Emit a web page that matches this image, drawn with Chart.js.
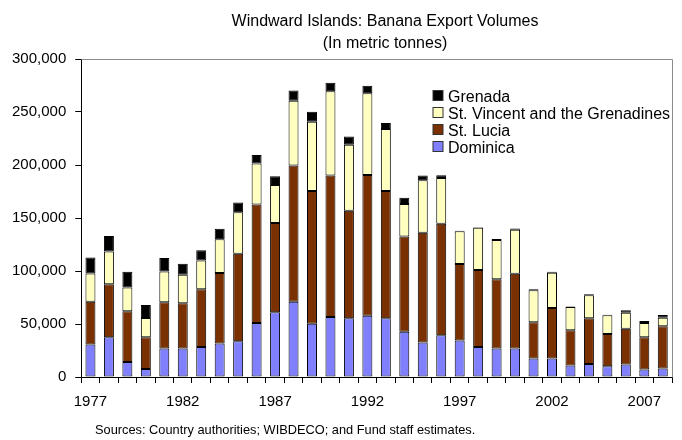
<!DOCTYPE html>
<html>
<head>
<meta charset="utf-8">
<script src="https://cdn.jsdelivr.net/npm/chart.js@4/dist/chart.umd.min.js"></script>
<style>
  html, body { margin: 0; padding: 0; background: #fff; }
  #wrap { width: 682px; height: 440px; }
</style>
</head>
<body>
<div id="wrap"><canvas id="chart" width="682" height="440"></canvas></div>
<script>
// Banana export volumes by island, metric tonnes
const years = ['1977','1978','1979','1980','1981','1982','1983','1984','1985','1986',
               '1987','1988','1989','1990','1991','1992','1993','1994','1995','1996',
               '1997','1998','1999','2000','2001','2002','2003','2004','2005','2006',
               '2007','2008'];
const dominica = [30700,37600,14200,7600,26900,26900,28400,31700,33800,50900,
                  61100,71100,50300,56600,55400,57800,55400,42700,32600,39300,
                  34500,28400,26900,26900,17400,17400,10800,12300,10100,11800,
                  7000,8000];
const stLucia = [40400,50000,47800,29800,43600,42700,54500,66300,82500,111900,
                 84300,128400,125100,133400,101400,132800,120000,89800,103400,105200,
                 72100,72500,65400,70500,34200,47700,33200,43100,30400,33700,
                 30600,39800];
const stVincent = [26600,30900,22400,18300,29100,26800,27100,31900,39200,38600,
                   35700,61200,65400,79600,62200,77200,58500,30600,49500,43200,
                   30800,39900,37000,41600,30300,33200,22000,21700,17700,15200,
                   13300,8100];
const grenada = [15100,14600,14900,12300,12700,10500,9500,9900,9200,8100,
                 8200,9500,9500,7900,8000,6900,5700,6000,4500,2600,
                 500,500,1000,1000,1000,1000,500,1000,500,2300,
                 1900,2600];
const yTicks = [0, 50000, 100000, 150000, 200000, 250000, 300000];
const shownYears = ['1977','1982','1987','1992','1997','2002','2007'];

const FONT = "'Liberation Sans', Arial, sans-serif";

// Headings, source note and the legend box drawn on the canvas
const decorations = {
  id: 'decorations',
  afterDraw(chart) {
    const ctx = chart.ctx;
    ctx.save();
    ctx.fillStyle = '#000';
    ctx.textAlign = 'center';
    ctx.textBaseline = 'alphabetic';
    ctx.font = '16px ' + FONT;
    ctx.fillText('Windward Islands: Banana Export Volumes', 385, 26);
    ctx.fillText('(In metric tonnes)', 385, 47.5);

    ctx.textAlign = 'left';
    ctx.font = '12.8px ' + FONT;
    ctx.fillText('Sources: Country authorities; WIBDECO; and Fund staff estimates.', 95, 434);

    // legend, top series first
    const order = [3, 2, 1, 0];
    ctx.font = '16px ' + FONT;
    order.forEach((di, i) => {
      const ds = chart.data.datasets[di];
      const y = 90.5 + i * 17;
      ctx.fillStyle = ds.backgroundColor;
      ctx.fillRect(433, y, 10, 10);
      ctx.strokeStyle = '#333';
      ctx.lineWidth = 1;
      ctx.strokeRect(433, y, 10, 10);
      ctx.fillStyle = '#000';
      ctx.fillText(ds.label, 448, y + 11);
    });
    ctx.restore();
  },
  beforeDatasetsDraw(chart) {
    const ctx = chart.ctx;
    const a = chart.chartArea;
    ctx.save();
    ctx.strokeStyle = '#8c8c8c';
    ctx.lineWidth = 1;
    ctx.beginPath();
    ctx.moveTo(Math.round(a.left) + 0.5, Math.round(a.top) + 0.5);
    ctx.lineTo(Math.round(a.right) + 0.5, Math.round(a.top) + 0.5);
    ctx.lineTo(Math.round(a.right) + 0.5, Math.round(a.bottom) + 0.5);
    ctx.stroke();
    ctx.restore();
  }
};

const common = { borderColor: '#000', borderWidth: 1, borderSkipped: false,
                 categoryPercentage: 1.0, barPercentage: 0.54 };

new Chart(document.getElementById('chart'), {
  type: 'bar',
  data: {
    labels: years,
    datasets: [
      Object.assign({ label: 'Dominica', data: dominica, backgroundColor: '#8080FF' }, common),
      Object.assign({ label: 'St. Lucia', data: stLucia, backgroundColor: '#7A3000' }, common),
      Object.assign({ label: 'St. Vincent and the Grenadines', data: stVincent, backgroundColor: '#FFFFC0' }, common),
      Object.assign({ label: 'Grenada', data: grenada, backgroundColor: '#000000' }, common)
    ]
  },
  options: {
    responsive: false,
    animation: false,
    devicePixelRatio: 1,
    layout: { padding: { left: 3, right: 10, top: 59, bottom: 19 } },
    plugins: {
      legend: { display: false },
      title: { display: false },
      tooltip: { enabled: false }
    },
    scales: {
      x: {
        stacked: true,
        grid: { display: true, drawOnChartArea: false, drawTicks: true,
                tickLength: 6, color: '#000', offset: true },
        border: { display: true, color: '#000', width: 1 },
        ticks: {
          autoSkip: false, maxRotation: 0, minRotation: 0, padding: 10,
          color: '#000', font: { family: FONT, size: 15 },
          callback(value, index) {
            const lab = years[index];
            return shownYears.includes(lab) ? lab : '';
          }
        }
      },
      y: {
        stacked: true,
        min: 0,
        max: 300000,
        afterBuildTicks(scale) { scale.ticks = yTicks.map(v => ({ value: v })); },
        grid: { display: true, drawOnChartArea: false, drawTicks: true,
                tickLength: 6, color: '#000' },
        border: { display: true, color: '#000', width: 1 },
        ticks: {
          padding: 9, color: '#000', font: { family: FONT, size: 15 },
          callback(value) { return Number(value).toLocaleString('en-US'); }
        }
      }
    }
  },
  plugins: [decorations]
});
</script>
</body>
</html>
